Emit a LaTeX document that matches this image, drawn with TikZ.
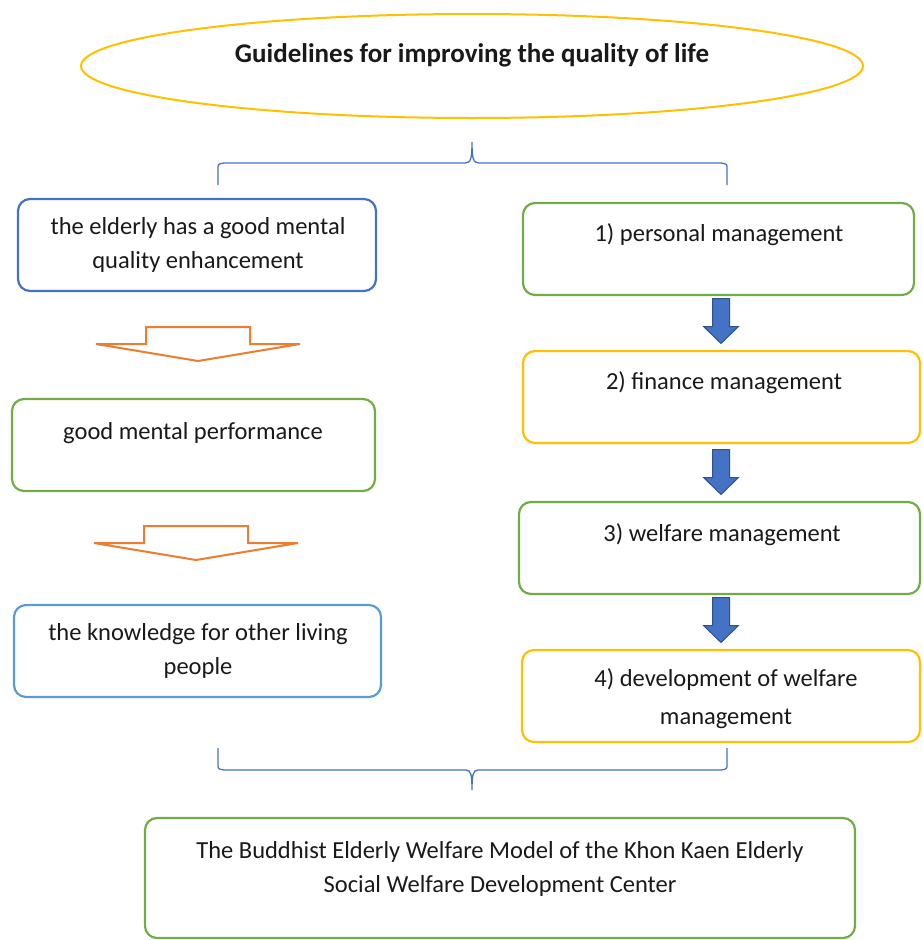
\documentclass[tikz,border=0pt]{standalone}
\usepackage{fontspec}
\setmainfont{Carlito}
\usepackage{tikz}
\usetikzlibrary{shapes.geometric}

\definecolor{wblue}{HTML}{4472C4}
\definecolor{wlblue}{HTML}{5B9BD5}
\definecolor{wgreen}{HTML}{70AD47}
\definecolor{wgold}{HTML}{FFC000}
\definecolor{worange}{HTML}{ED7D31}
\definecolor{wdblue}{HTML}{2F528F}

\begin{document}
\begin{tikzpicture}[x=1pt,y=-1pt,
  font=\fontsize{24.5}{34}\selectfont,
  box/.style={draw=#1,line width=2.2pt,rounded corners=12pt,minimum height=92pt},
  txt/.style={align=center,inner sep=0pt,text=black!90},
  brace/.style={draw=wblue,line width=1.3pt},
  hollowarrow/.pic={\draw[worange,line width=2pt,line join=miter]
    (-52,-17) -- (52,-17) -- (52,0) -- (102,0) -- (0,17) -- (-102,0) -- (-52,0) -- cycle;},
  bluearrow/.pic={\draw[wdblue,fill=wblue,line width=1pt,line join=miter]
    (-8.5,-22.5) -- (8.5,-22.5) -- (8.5,5.5) -- (17.5,5.5) -- (0,22.5) -- (-17.5,5.5) -- (-8.5,5.5) -- cycle;}]
\useasboundingbox (0,0) rectangle (922,940);

% ---- heading ----
\node[ellipse,draw=wgold,line width=2pt,minimum width=782pt,minimum height=104pt] (head) at (472,66) {};
\node[txt,font=\fontsize{27}{34}\selectfont\bfseries] (headt) at (472,55) {Guidelines for improving the quality of life};
\draw[brace] (218,185) -- (218,169) .. controls (218,164) .. (224,163) -- (465,163)
  .. controls (471,163) and (472,158) .. (472,142) .. controls (472,158) and (473,163) .. (479,163)
  -- (721,163) .. controls (727,164) .. (727,169) -- (727,185);

% ---- left column ----
\node[box=wblue,minimum width=358pt] (l1) at (197,245) {};
\node[txt] (l1t) at (198,245) {the elderly has a good mental\\quality enhancement};
\pic at (198,344) {hollowarrow};
\node[box=wgreen,minimum width=363pt] (l2) at (193.5,445) {};
\node[txt] (l2t) at (193,433) {good mental performance};
\pic at (196,543) {hollowarrow};
\node[box=wlblue,minimum width=367pt] (l3) at (197.5,651) {};
\node[txt] (l3t) at (198,651) {the knowledge for other living\\people};

% ---- right column ----
\node[box=wgreen,minimum width=391pt] (r1) at (718.5,249) {};
\node[txt] (r1t) at (719,235) {1) personal management};
\pic at (721,321) {bluearrow};
\node[box=wgold,minimum width=397pt] (r2) at (721.5,397) {};
\node[txt] (r2t) at (724,383) {2) finance management};
\pic at (721,472) {bluearrow};
\node[box=wgreen,minimum width=401pt] (r3) at (719.5,548) {};
\node[txt] (r3t) at (722,535) {3) welfare management};
\pic at (721,620) {bluearrow};
\node[box=wgold,minimum width=398pt] (r4) at (721,696) {};
\node[txt,font=\fontsize{24.5}{38}\selectfont] (r4t) at (726,699) {4) development of welfare\\management};

% ---- result ----
\draw[brace] (218,748) -- (218,764) .. controls (218,769) .. (224,770) -- (466,770)
  .. controls (471,770) and (472,775) .. (472,790) .. controls (472,775) and (473,770) .. (478,770)
  -- (721,770) .. controls (727,769) .. (727,764) -- (727,748);
\node[box=wgreen,minimum width=710pt,minimum height=120pt] (model) at (500,878) {};
\node[txt] (modelt) at (500,869) {The Buddhist Elderly Welfare Model of the Khon Kaen Elderly\\Social Welfare Development Center};
\end{tikzpicture}
\end{document}
